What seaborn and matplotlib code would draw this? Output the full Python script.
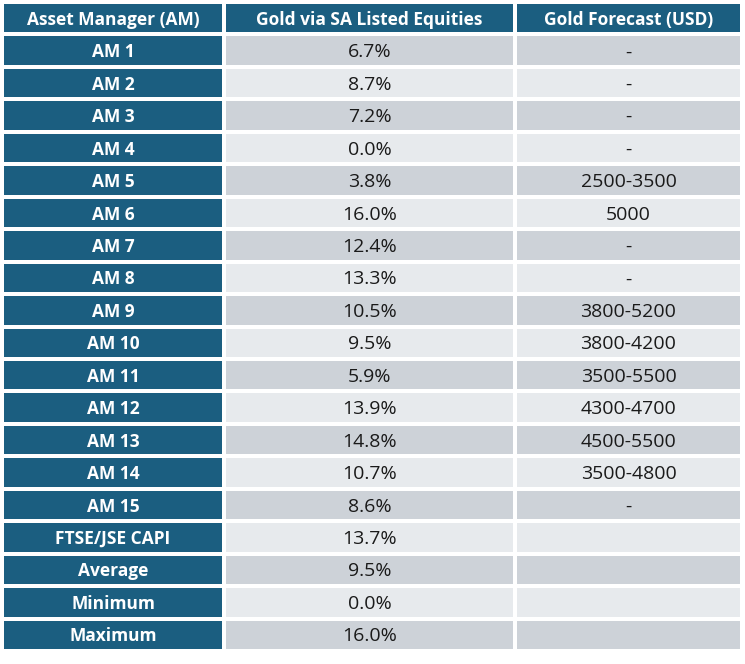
import numpy as np
import pandas as pd
import matplotlib
matplotlib.use("Agg")
import matplotlib.pyplot as plt
from matplotlib.colors import ListedColormap
import seaborn as sns

headers = ["Asset Manager (AM)", "Gold via SA Listed Equities", "Gold Forecast (USD)"]
managers = ["AM 1", "AM 2", "AM 3", "AM 4", "AM 5", "AM 6", "AM 7", "AM 8", "AM 9",
            "AM 10", "AM 11", "AM 12", "AM 13", "AM 14", "AM 15", "FTSE/JSE CAPI",
            "Average", "Minimum", "Maximum"]
equities_pct = [6.7, 8.7, 7.2, 0.0, 3.8, 16.0, 12.4, 13.3, 10.5, 9.5, 5.9, 13.9,
                14.8, 10.7, 8.6, 13.7, 9.5, 0.0, 16.0]
forecast_usd = ["-", "-", "-", "-", "2500-3500", "5000", "-", "-", "3800-5200",
                "3800-4200", "3500-5500", "4300-4700", "4500-5500", "3500-4800", "-",
                "", "", "", ""]

BLUE = "#1B5E80"
DARK = "#CDD2D8"
LIGHT = "#E7EAED"
cmap = ListedColormap([BLUE, DARK, LIGHT])

sns.set_theme(style="white")
plt.rcParams["font.family"] = ["Open Sans", "DejaVu Sans"]

W, H = 745, 664
fig = plt.figure(figsize=(W / 100, H / 100), dpi=100)
left, right, top, bottom = 2 / W, 742 / W, 1 - 2 / H, 1 - 651 / H
widths = [222, 291, 227]
gs = fig.add_gridspec(1, 3, width_ratios=widths, left=left, right=right,
                      top=top, bottom=bottom, wspace=0)

n = len(managers)
col_texts = [
    managers,
    [f"{v:.1f}%" for v in equities_pct],
    forecast_usd,
]
for c in range(3):
    ax = fig.add_subplot(gs[0, c])
    codes = [0]
    for i in range(n):
        if c == 0:
            codes.append(0)
        else:
            codes.append(1 if i % 2 == 0 else 2)
    df = pd.DataFrame({"v": codes})
    sns.heatmap(df, ax=ax, cmap=cmap, vmin=-0.5, vmax=2.5, cbar=False,
                linewidths=1.5, linecolor="white", xticklabels=False,
                yticklabels=False)
    ax.text(0.5, 0.55, headers[c], ha="center", va="center", color="white",
            fontsize=12.5, fontweight="bold")
    for i, t in enumerate(col_texts[c]):
        if c == 0:
            ax.text(0.5, i + 1.55, t, ha="center", va="center", color="white",
                    fontsize=12.5, fontweight="bold")
        else:
            ax.text(0.5, i + 1.55, t, ha="center", va="center", color="#1a1a1a",
                    fontsize=14)
    ax.set_xlabel("")
    ax.set_ylabel("")

fig.savefig("out.png", dpi=100, facecolor="white")
